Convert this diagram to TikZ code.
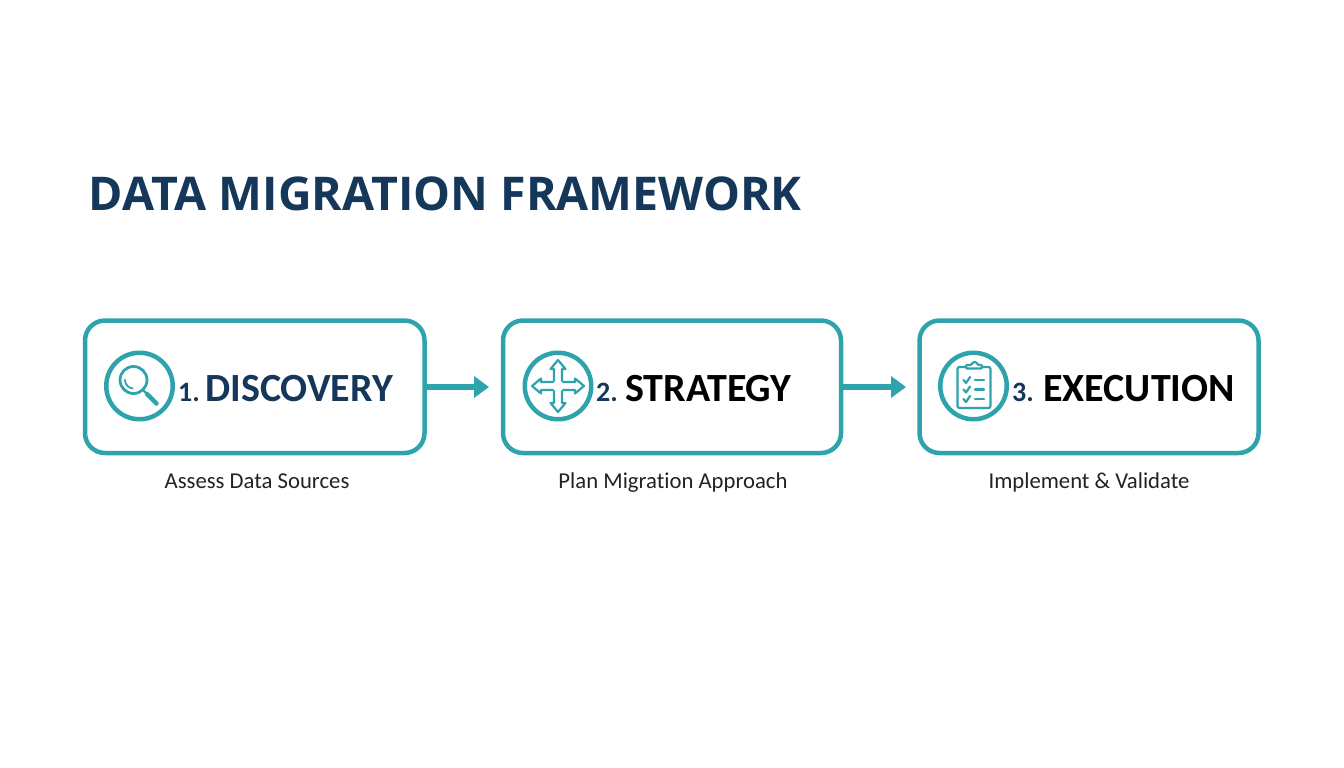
\documentclass[tikz,border=0pt]{standalone}
\usepackage{fontspec}
\setmainfont{Carlito}[Ligatures=NoCommon]
\newfontfamily\titlefont{Open Sans}
\usetikzlibrary{arrows.meta}
\definecolor{tealline}{HTML}{2FA3AC}
\definecolor{navytext}{HTML}{14375A}
\definecolor{subtext}{HTML}{222222}
\tikzset{
    stagebox/.style={draw=tealline, line width=4.5pt, rounded corners=20pt, inner sep=0pt, outer sep=0pt, anchor=north west},
    iconring/.style={draw=tealline, line width=4.5pt, circle, minimum size=66.5pt, inner sep=0pt, outer sep=0pt},
    iconline/.style={draw=tealline, line width=2.2pt, line join=round, line cap=round},
    stepnum/.style={anchor=base west, text=navytext, inner sep=0pt, font=\bfseries\fontsize{28}{28}\selectfont},
    steptitle/.style={anchor=base west, inner sep=0pt, font=\bfseries\fontsize{40}{40}\selectfont},
    steplabel/.style={anchor=base, text=subtext, inner sep=0pt, font=\fontsize{22.7}{24}\selectfont},
    linkarrow/.style={draw=tealline, line width=5.5pt, -{Triangle[length=15pt,width=21pt]}}
}
\begin{document}
\begin{tikzpicture}[x=1pt,y=-1pt]
    \useasboundingbox (0,0) rectangle (1344,768);

    \node[anchor=base west, inner sep=0pt, text=navytext, font=\titlefont\bfseries\fontsize{46.5}{47}\selectfont] (title) at (88.5,210) {DATA MIGRATION FRAMEWORK};

    \node[stagebox, minimum width=339.5pt, minimum height=132.5pt] (discovery) at (85,320.5) {};
    \node[stagebox, minimum width=338pt, minimum height=132.5pt] (strategy) at (503,320.5) {};
    \node[stagebox, minimum width=339pt, minimum height=132.5pt] (execution) at (919.5,320.5) {};

    \node[iconring] (ringa) at (139.5,386) {};
    \node[iconring] (ringb) at (558,386) {};
    \node[iconring] (ringc) at (973.5,386) {};

    \node[stepnum] (numa) at (178,401) {1.};
    \node[stepnum] (numb) at (596,401) {2.};
    \node[stepnum] (numc) at (1012,401) {3.};
    \node[steptitle, text=navytext] (namea) at (205,401) {DISCOVERY};
    \node[steptitle, text=black] (nameb) at (625,401) {STRATEGY};
    \node[steptitle, text=black] (namec) at (1043,401) {EXECUTION};

    \node[steplabel] (laba) at (257,488) {Assess Data Sources};
    \node[steplabel] (labb) at (673,488) {Plan Migration Approach};
    \node[steplabel] (labc) at (1089,488) {Implement \& Validate};

    \coordinate (enda) at (489,387);
    \coordinate (endb) at (906,387);
    \draw[linkarrow] (discovery.east |- enda) -- (enda);
    \draw[linkarrow] (strategy.east |- endb) -- (endb);

    % magnifier
    \draw[iconline, line width=2.8pt] (133.5,380) circle (13.5);
    \draw[iconline, line width=1.8pt] (125,380) arc (180:95:8.5);
    \draw[iconline] (143,390) -- (147,394);
    \draw[iconline, line width=4.5pt] (147,394) -- (156.5,403.5);

    % four way arrow
    \foreach \ang in {0,90,180,270} {
        \draw[iconline, rotate around={\ang:(558,386)}] (563,382) -- (575,382) -- (575,378.5) -- (584,386) -- (575,393.5) -- (575,390) -- (563,390);
    }

    % clipboard
    \draw[iconline, rounded corners=2pt] (957.5,367) rectangle (990.5,408);
    \draw[iconline, fill=white, rounded corners=1pt] (966,368.5) -- (966,365) -- (971,365) -- (973.5,362) -- (976,362) -- (978,365) -- (982,365) -- (982,368.5) -- cycle;
    \foreach \yy in {380,389.5,399} {
        \draw[iconline] (963.5,\yy) -- (966,\yy+3) -- (970,\yy-3);
        \draw[iconline] (975,\yy) -- (984,\yy);
    }
\end{tikzpicture}
\end{document}
